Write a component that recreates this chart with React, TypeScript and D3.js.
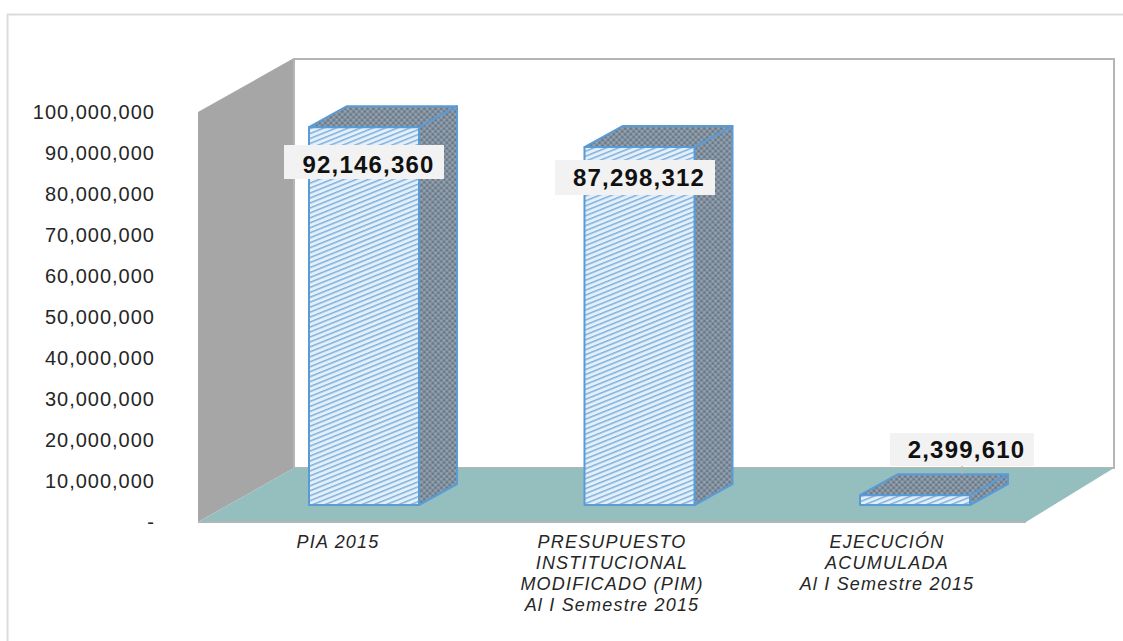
import React from "react";
import * as d3 from "d3";

const categories = ["PIA 2015", "PRESUPUESTO INSTITUCIONAL MODIFICADO (PIM) Al I Semestre 2015", "EJECUCIÓN ACUMULADA Al I Semestre 2015"];
const categoryLines = [["PIA 2015"], ["PRESUPUESTO", "INSTITUCIONAL", "MODIFICADO (PIM)", "Al I Semestre 2015"], ["EJECUCIÓN", "ACUMULADA", "Al I Semestre 2015"]];
const values = [92146360, 87298312, 2399610];
const valueLabels = ["92,146,360", "87,298,312", "2,399,610"];
const tickValues = [0, 10000000, 20000000, 30000000, 40000000, 50000000, 60000000, 70000000, 80000000, 90000000, 100000000];

const W = 1123, H = 641;
const font = "'Liberation Sans', Arial, sans-serif";
const dx = 96, dy = -54;
const y = d3.scaleLinear().domain([0, 100000000]).range([522, 112]);
const x = d3.scaleBand<number>().domain([0, 1, 2]).range([198.8, 1080.2]).paddingInner(0.6007).paddingOuter(0.4);
const barDx = 38, barDy = -21, barBase = 505;
const h = (v: number) => y(0) - y(v);
const poly = (p: number[][]) => p.map((q) => q.join(",")).join(" ");
const fmt = (v: number) => (v === 0 ? "-" : d3.format(",")(v));

const labelBoxes = [
  { x: 284, y: 145, w: 160, h: 34, tx: 368.5, ty: 172.5 },
  { x: 555, y: 160, w: 160, h: 35, tx: 639, ty: 186 },
  { x: 890, y: 433, w: 144, h: 33, tx: 966.5, ty: 458 },
];

export default function App() {
  const bw = x.bandwidth();
  return (
    <svg width={W} height={H} viewBox={`0 0 ${W} ${H}`} style={{ position: "absolute", left: 0, top: 0, background: "#fff" }}>
      <defs>
        <pattern id="front" width="8" height="4.6" patternUnits="userSpaceOnUse" patternTransform="rotate(-22)">
          <rect width="8" height="4.6" fill="#e3f0fb" />
          <rect y="0" width="8" height="1.5" fill="#7fb0da" />
        </pattern>
        <pattern id="dark" width="4" height="4" patternUnits="userSpaceOnUse" patternTransform="rotate(45)">
          <rect width="4" height="4" fill="#82909d" />
          <rect width="2" height="2" fill="#66778a" />
          <rect x="2" y="2" width="1.5" height="1.5" fill="#a3b0bc" />
        </pattern>
      </defs>
      <path d="M7.5 641V14.5H1123" fill="none" stroke="#dcdcdc" strokeWidth="2" />
      <polygon points={poly([[198, y(100000000)], [198 + dx, y(100000000) + dy], [198 + dx, y(0) + dy], [198, y(0)]])} fill="#a6a6a6" />
      <polygon points={poly([[294, 59], [1114, 59], [1114, 468], [294, 468]])} fill="#fff" stroke="#b5b5b5" strokeWidth="2" />
      <polygon points={poly([[198, 522], [294, 468], [1114, 468], [1026, 522]])} fill="#95bfbf" />
      <line x1="198" x2="1026" y1="522" y2="522" stroke="#b5b5b5" strokeWidth="2" />

      {tickValues.map((t) => (
        <text key={t} x={155} y={y(t) + 7} textAnchor="end" fontFamily={font} fontSize={20} letterSpacing={1} fill="#262626">
          {fmt(t)}
        </text>
      ))}

      {values.map((v, i) => {
        const x0 = x(i)!;
        const x1 = x0 + bw;
        const b = barBase;
        const t = b - h(v);
        return (
          <g key={categories[i]} stroke="#5b9bd5" strokeWidth="2" strokeLinejoin="round">
            <polygon points={poly([[x1, b], [x1 + barDx, b + barDy], [x1 + barDx, t + barDy], [x1, t]])} fill="url(#dark)" />
            <polygon points={poly([[x0, t], [x0 + barDx, t + barDy], [x1 + barDx, t + barDy], [x1, t]])} fill="url(#dark)" />
            <rect x={x0} y={t} width={bw} height={b - t} fill="url(#front)" />
          </g>
        );
      })}

      <line x1={962} x2={962} y1={466} y2={474} stroke="#b5b5b5" strokeWidth="1.5" />
      {labelBoxes.map((r, i) => (
        <g key={valueLabels[i]}>
          <rect x={r.x} y={r.y} width={r.w} height={r.h} fill="#f2f2f2" />
          <text x={r.tx} y={r.ty} textAnchor="middle" fontFamily={font} fontWeight={700} fontSize={24} letterSpacing={1.2} fill="#111">
            {valueLabels[i]}
          </text>
        </g>
      ))}

      {categoryLines.map((lines, i) => (
        <text key={categories[i]} fontFamily={font} fontStyle="italic" fontSize={18} letterSpacing={1.2} fill="#262626" textAnchor="middle">
          {lines.map((l, j) => (
            <tspan key={l} x={[338, 612, 887][i]} y={548 + j * 21}>{l}</tspan>
          ))}
        </text>
      ))}
    </svg>
  );
}
